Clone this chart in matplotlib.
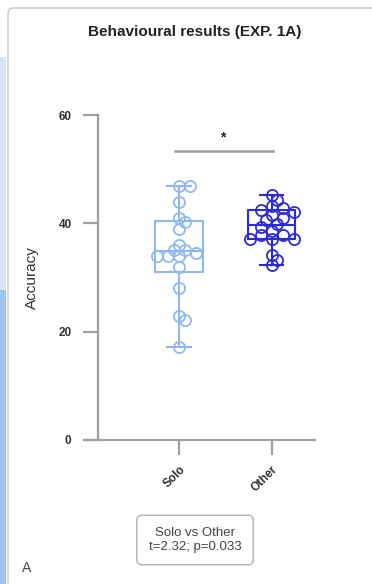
"""Behavioural results (EXP. 1A): Solo vs Other accuracy, box + scatter."""
import matplotlib
matplotlib.use("Agg")
import matplotlib.pyplot as plt  # noqa: E402
from matplotlib import cbook
from matplotlib.patches import FancyBboxPatch, Rectangle
import numpy as np

plt.rcParams["font.family"] = ["Liberation Sans", "DejaVu Sans"]

groups = ["Solo", "Other"]
solo = [46.9, 46.9, 44.0, 41.0, 40.2, 38.9, 36.0, 35.1, 35.1, 34.6, 34.0, 34.0,
        34.0, 32.0, 28.0, 22.9, 22.1, 17.1]
other = [45.2, 44.3, 43.2, 42.8, 42.5, 42.1, 41.5, 41.0, 40.6, 39.9, 39.4, 38.5,
         37.9, 37.9, 37.2, 37.2, 37.2, 34.1, 33.2, 32.3]
colors = ["#8fb8f0", "#2b2bdc"]
stat_text = "Solo vs Other\nt=2.32; p=0.033"

W, H, DPI = 372, 584, 100
fig = plt.figure(figsize=(W / DPI, H / DPI), dpi=DPI)

# page decorations: blue side strip + card outline
fig.patches.append(Rectangle((0, 1 - 290 / H), 6 / W, 233 / H, transform=fig.transFigure,
                             facecolor="#d6e6fa", edgecolor="none"))
fig.patches.append(Rectangle((0, 0), 6 / W, 1 - 290 / H, transform=fig.transFigure,
                             facecolor="#9dc4f0", edgecolor="none"))
fig.patches.append(FancyBboxPatch((8 / W, -0.05), 1.2, 1 - 8 / H + 0.05,
                                  boxstyle="round,pad=0,rounding_size=0.012",
                                  transform=fig.transFigure, facecolor="none",
                                  edgecolor="#cfcfcf", lw=1.2))

ax = fig.add_axes([85 / W, 1 - 440 / H, 230 / W, 325 / H])
ax.set_xlim(-1.014, 1.467)
ax.set_ylim(0, 60)


def swarm(values, x0, ax, diam_px=11, overlap=0.62):
    """Simple deterministic beeswarm in pixel space."""
    tr = ax.transData
    placed = []
    xs = np.zeros(len(values))
    step = diam_px * 0.5
    order = np.argsort(values)[::-1]
    for i in order:
        px0, py = tr.transform((x0, values[i]))
        off = 0
        for k in range(40):
            off = ((k + 1) // 2) * step * (1 if k % 2 else -1) if k else 0
            if all(np.hypot(px0 + off - qx, py - qy) >= diam_px * overlap
                   for qx, qy in placed):
                break
        placed.append((px0 + off, py))
        xs[i] = tr.inverted().transform((px0 + off, py))[0]
    return xs


for i, (data, col) in enumerate(zip([solo, other], colors)):
    st = cbook.boxplot_stats(data, whis=(0, 100))[0]
    st["q1"], st["med"], st["q3"] = np.percentile(data, [25, 50, 75], method="weibull")
    ax.bxp([st], positions=[i], widths=0.51, showfliers=False,
           boxprops=dict(color=col, lw=1.5), medianprops=dict(color=col, lw=1.5),
           whiskerprops=dict(color=col, lw=1.5), capprops=dict(color=col, lw=1.5),
           capwidths=0.25)
    xs = swarm(np.asarray(data), i, ax)
    ax.plot(xs, data, "o", ms=8, mfc="none", mec=col, mew=1.3, ls="none", zorder=3)

# significance bar
ax.plot([-0.04, 1.01], [53.3, 53.3], color="#a0a0a0", lw=1.8, clip_on=False)
ax.text(0.47, 54.5, "*", ha="center", va="bottom", fontsize=10, fontweight="bold",
        color="#222222")

# Prism-like axes
for s in ["top", "right"]:
    ax.spines[s].set_visible(False)
ax.spines["left"].set_position(("data", -0.874))
ax.spines["left"].set_bounds(0, 60)
for s in ["left", "bottom"]:
    ax.spines[s].set_color("#a0a0a0")
    ax.spines[s].set_linewidth(1.6)
ax.set_yticks([0, 20, 40, 60])
ax.set_yticklabels(["0", "20", "40", "60"], fontsize=8.5, fontweight="bold", color="#333333")
ax.set_xticks([0, 1])
ax.set_xticklabels(groups, rotation=45, ha="right", rotation_mode="anchor",
                   fontsize=8.5, fontweight="bold", color="#333333")
ax.tick_params(axis="both", color="#a0a0a0", width=1.6, length=11)
ax.tick_params(axis="y", pad=8)
ax.tick_params(axis="x", pad=6)
ax.set_ylabel("Accuracy", fontsize=11, color="#333333", labelpad=14)

fig.text(195 / W, 1 - 32 / H, "Behavioural results (EXP. 1A)", ha="center", va="center",
         fontsize=11, fontweight="bold", color="#222222")
fig.text(195 / W, 1 - 540 / H, stat_text, ha="center", va="center", fontsize=9.5,
         color="#444444", linespacing=1.2,
         bbox=dict(boxstyle="round,pad=0.9,rounding_size=0.4", facecolor="white",
                   edgecolor="#b0b0b0", lw=1.0))
fig.text(22 / W, 1 - 568 / H, "A", ha="left", va="center", fontsize=10, color="#444444")

fig.savefig("out.png", dpi=DPI)
